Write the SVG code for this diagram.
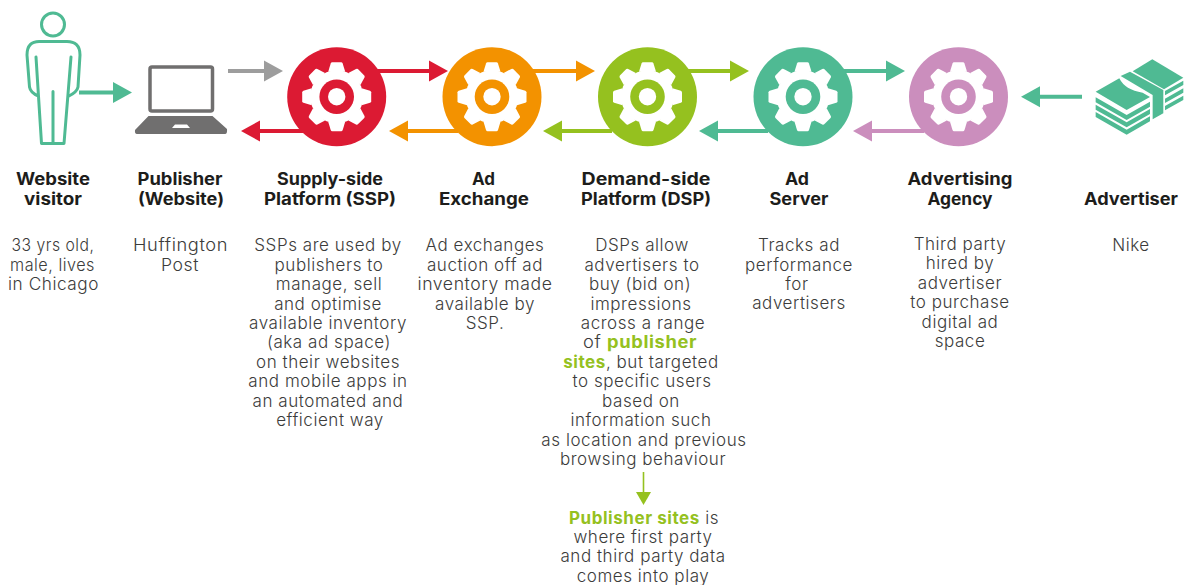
<svg xmlns="http://www.w3.org/2000/svg" xmlns:xlink="http://www.w3.org/1999/xlink" width="1184" height="585" viewBox="0 0 1184 585">
<style>
text{font-family:Inter,"Noto Sans","Liberation Sans",sans-serif;text-anchor:middle;fill:#3c3c3b}
.t{font-size:17px;font-weight:700;fill:#1d1d1b}
.d{font-size:17px;font-weight:300;letter-spacing:.55px}
.g{font-weight:700;fill:#95c11f}
.a{stroke-width:4;fill:none}
.red{color:#dc1a33}.or{color:#f39200}.gr{color:#95c11f}.te{color:#4fba93}.pi{color:#cb8ebd}.gy{color:#9d9d9d}
</style>
<defs>
<g id="tooth"><path fill="#fff" d="M25 -8.500L33.300 -6Q34.500 -5.500 34.500 -4.500V4.500Q34.500 5.500 33.300 6L25 8.500Z"/></g>
<g id="gear">
<circle r="49.5" fill="currentColor"/>
<circle r="26.500" fill="#fff"/>
<use href="#tooth"/><use href="#tooth" transform="rotate(45)"/><use href="#tooth" transform="rotate(90)"/><use href="#tooth" transform="rotate(135)"/><use href="#tooth" transform="rotate(180)"/><use href="#tooth" transform="rotate(225)"/><use href="#tooth" transform="rotate(270)"/><use href="#tooth" transform="rotate(315)"/>
<circle r="17.3" fill="currentColor"/>
<circle r="8.7" fill="#fff"/>
</g>
<path id="headR" d="M0 -10.5L19 0L0 10.5Z" fill="currentColor"/>
</defs>

<g id="connectors">
<g class="te"><path class="a" stroke="currentColor" d="M79 92.5H115"/><use href="#headR" transform="translate(113 92.5)"/></g>
<g class="gy"><path class="a" stroke="currentColor" d="M228 71H266"/><use href="#headR" transform="translate(264 71)"/></g>
<g class="red"><path class="a" stroke="currentColor" d="M376 71H431"/><use href="#headR" transform="translate(429 71)"/></g>
<g class="or"><path class="a" stroke="currentColor" d="M532 71H578"/><use href="#headR" transform="translate(576 71)"/></g>
<g class="gr"><path class="a" stroke="currentColor" d="M687 71H732"/><use href="#headR" transform="translate(730 71)"/></g>
<g class="te"><path class="a" stroke="currentColor" d="M843 71H888"/><use href="#headR" transform="translate(886 71)"/></g>
<g class="red"><path class="a" stroke="currentColor" d="M305 131H258"/><use href="#headR" transform="translate(260 131) scale(-1 1)"/></g>
<g class="or"><path class="a" stroke="currentColor" d="M458 131H406"/><use href="#headR" transform="translate(408 131) scale(-1 1)"/></g>
<g class="gr"><path class="a" stroke="currentColor" d="M612 131H560"/><use href="#headR" transform="translate(562 131) scale(-1 1)"/></g>
<g class="te"><path class="a" stroke="currentColor" d="M768 131H716"/><use href="#headR" transform="translate(718 131) scale(-1 1)"/></g>
<g class="pi"><path class="a" stroke="currentColor" d="M924 131H870"/><use href="#headR" transform="translate(872 131) scale(-1 1)"/></g>
<g class="te"><path class="a" stroke="currentColor" d="M1082 96.7H1038"/><use href="#headR" transform="translate(1040 96.7) scale(-1 1)"/></g>
<g class="gr"><path stroke="currentColor" stroke-width="1.6" fill="none" d="M643.500 472V496"/><path d="M636 492H651L643.500 505Z" fill="currentColor"/></g>
</g>

<g id="website-visitor">
<g fill="none" stroke="#4fba93" stroke-width="3" stroke-linejoin="round" stroke-linecap="round">
<circle cx="53" cy="24.500" r="11.500"/>
<path d="M36 57L41.500 143.500H64L71 57M53 91.500V143.500M38.500 96Q30.500 93 29.500 87L27 55Q27 41 40 41.500H66Q80 41 80 55L78 87Q77 92 69 96"/>
</g>
<text class="t" x="53" y="185" textLength="74" lengthAdjust="spacingAndGlyphs">Website</text><text class="t" x="53" y="205" textLength="58" lengthAdjust="spacingAndGlyphs">visitor</text>
<text class="d" x="53" y="251" textLength="83" lengthAdjust="spacingAndGlyphs">33 yrs old,</text><text class="d" x="52.500" y="271" textLength="85" lengthAdjust="spacingAndGlyphs">male, lives</text><text class="d" x="53.500" y="290" textLength="91" lengthAdjust="spacingAndGlyphs">in Chicago</text>
</g>

<g id="publisher">
<rect x="150" y="67" width="62.500" height="44" rx="2" fill="none" stroke="#706f6f" stroke-width="3.500"/>
<path d="M148.500 116H212.500L227 129Q227.500 134 225 134H137Q134.500 134 135 130ZM175 124.500L172 128H190L187 124.500Z" fill="#706f6f" fill-rule="evenodd"/>
<text class="t" x="180" y="185" textLength="85" lengthAdjust="spacingAndGlyphs">Publisher</text><text class="t" x="181" y="205" textLength="86" lengthAdjust="spacingAndGlyphs">(Website)</text>
<text class="d" x="180.500" y="251" textLength="95" lengthAdjust="spacingAndGlyphs">Huffington</text><text class="d" x="180" y="271" textLength="38" lengthAdjust="spacingAndGlyphs">Post</text>
</g>

<g id="ssp">
<use href="#gear" class="red" transform="translate(336.700 96.700)"/>
<text class="t" x="330" y="185" textLength="106" lengthAdjust="spacingAndGlyphs">Supply-side</text><text class="t" x="330" y="205" textLength="132" lengthAdjust="spacingAndGlyphs">Platform (SSP)</text>
<text class="d" x="328" y="251">SSPs are used by</text><text class="d" x="329" y="271">publishers to</text><text class="d" x="329" y="290">manage, sell</text><text class="d" x="328" y="310">and optimise</text><text class="d" x="328" y="329">available inventory</text><text class="d" x="329" y="348">(aka ad space)</text><text class="d" x="328" y="368">on their websites</text><text class="d" x="328" y="387">and mobile apps in</text><text class="d" x="328" y="407">an automated and</text><text class="d" x="330" y="426">efficient way</text>
</g>

<g id="ad-exchange">
<use href="#gear" class="or" transform="translate(492 96.700)"/>
<text class="t" x="483.500" y="185" textLength="23" lengthAdjust="spacingAndGlyphs">Ad</text><text class="t" x="484" y="205" textLength="90" lengthAdjust="spacingAndGlyphs">Exchange</text>
<text class="d" x="485" y="251">Ad exchanges</text><text class="d" x="485" y="271">auction off ad</text><text class="d" x="485" y="290" textLength="135" lengthAdjust="spacingAndGlyphs">inventory made</text><text class="d" x="485" y="310">available by</text><text class="d" x="485" y="329">SSP.</text>
</g>

<g id="dsp">
<use href="#gear" class="gr" transform="translate(647.500 96.700)"/>
<text class="t" x="646" y="185" textLength="129" lengthAdjust="spacingAndGlyphs">Demand-side</text><text class="t" x="646" y="205" textLength="130" lengthAdjust="spacingAndGlyphs">Platform (DSP)</text>
<text class="d" x="642" y="251">DSPs allow</text><text class="d" x="642" y="271">advertisers to</text><text class="d" x="640" y="290">buy (bid on)</text><text class="d" x="641" y="310">impressions</text><text class="d" x="643" y="329">across a range</text><text class="d" x="640" y="348" textLength="114" lengthAdjust="spacingAndGlyphs">of <tspan class="g">publisher</tspan></text><text class="d" x="641" y="368"><tspan class="g">sites</tspan>, but targeted</text><text class="d" x="642" y="387">to specific users</text><text class="d" x="641" y="407">based on</text><text class="d" x="641" y="426">information such</text><text class="d" x="644" y="446">as location and previous</text><text class="d" x="643" y="465">browsing behaviour</text>
<text class="d" x="644" y="524"><tspan class="g">Publisher sites</tspan> is</text><text class="d" x="643" y="543">where first party</text><text class="d" x="643" y="562">and third party data</text><text class="d" x="643" y="582">comes into play</text>
</g>

<g id="ad-server">
<use href="#gear" class="te" transform="translate(803 96.700)"/>
<text class="t" x="797" y="185" textLength="24" lengthAdjust="spacingAndGlyphs">Ad</text><text class="t" x="799" y="205" textLength="59" lengthAdjust="spacingAndGlyphs">Server</text>
<text class="d" x="799" y="251">Tracks ad</text><text class="d" x="799" y="271">performance</text><text class="d" x="797" y="290">for</text><text class="d" x="799" y="309">advertisers</text>
</g>

<g id="agency">
<use href="#gear" class="pi" transform="translate(958.500 96.700)"/>
<text class="t" x="960" y="185" textLength="105" lengthAdjust="spacingAndGlyphs">Advertising</text><text class="t" x="960" y="205" textLength="65" lengthAdjust="spacingAndGlyphs">Agency</text>
<text class="d" x="960" y="250">Third party</text><text class="d" x="960" y="269">hired by</text><text class="d" x="960" y="289">advertiser</text><text class="d" x="960" y="308">to purchase</text><text class="d" x="960" y="328">digital ad</text><text class="d" x="960" y="347">space</text>
</g>

<g id="advertiser">
<g transform="translate(1000 40) scale(.3333)" fill="#4fba93">
<path d="M287 155L358 115Q375 150 428 158L450 171L380 210Z"/>
<path d="M398 94L457 58L550 113L492 148Z"/>
<path d="M362 108L390 95L490 150V220L458 238V165Z"/>
<path d="M287 172L380 225L450 185V200L380 240L287 187ZM287 194L380 247L450 207V222L380 262L287 209ZM287 216L380 269L450 229V244L380 284L287 231Z"/>
<path d="M495 153L550 122V135L495 166ZM495 176L550 145V158L495 189ZM495 198L550 167V180L495 211Z"/>
</g>
<text class="t" x="1131" y="205" textLength="94" lengthAdjust="spacingAndGlyphs">Advertiser</text>
<text class="d" x="1131" y="251">Nike</text>
</g>
</svg>
